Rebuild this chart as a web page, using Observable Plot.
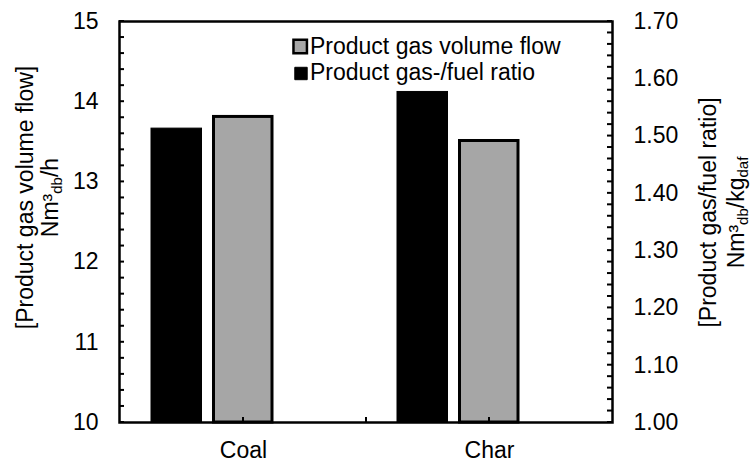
<!DOCTYPE html>
<html><head><meta charset="utf-8">
<script src="https://cdn.jsdelivr.net/npm/d3@7"></script>
<script src="https://cdn.jsdelivr.net/npm/@observablehq/plot@0.6"></script>
<style>body{margin:0;background:#fff}</style>
</head><body><div id="chart"></div>
<script>
// ---- data ----
const categories = ["Coal", "Char"];
const volumeFlow = [13.81, 13.51];        // Nm³db/h (left axis)
const gasFuelRatio = [1.513, 1.577];      // Nm³db/kgdaf (right axis)
const seriesNames = ["Product gas volume flow", "Product gas-/fuel ratio"];
const leftTicks = [10, 11, 12, 13, 14, 15];
const rightTicks = [1.00, 1.10, 1.20, 1.30, 1.40, 1.50, 1.60, 1.70];
const leftTitle = "[Product gas volume flow]";
const rightTitle = "[Product gas/fuel ratio]";

// ---- layout ----
const W = 751, H = 462;
const mL = 119, mR = 139, mT = 21, mB = 40;
const frameW = W - mL - mR, frameH = H - mT - mB;
const FS = 23;

const lMin = leftTicks[0], lMax = leftTicks[leftTicks.length - 1];
const rMin = rightTicks[0], rMax = rightTicks[rightTicks.length - 1];
const toLeft = r => lMin + (r - rMin) / (rMax - rMin) * (lMax - lMin);
const fromLeft = v => rMin + (v - lMin) / (lMax - lMin) * (rMax - rMin);

const volData = categories.map((c, i) => ({cat: c, v: volumeFlow[i]}));
const ratioData = categories.map((c, i) => ({cat: c, r: gasFuelRatio[i]}));
const leftMinor = d3.range(lMin, lMax + 1e-9, 0.2);
const rightMinor = d3.range(rMin, rMax + 1e-9, 0.02).map(toLeft);
const bw = frameW / categories.length;

const chart = Plot.plot({
  width: W, height: H,
  marginLeft: mL, marginRight: mR, marginTop: mT, marginBottom: mB,
  style: {fontFamily: "Arial, 'Liberation Sans', sans-serif", fontSize: FS + "px", background: "white", color: "black"},
  x: {type: "band", domain: categories, padding: 0, axis: null},
  y: {domain: [lMin, lMax], axis: null},
  marks: [
    Plot.barY(ratioData, {x: "cat", y1: lMin, y2: d => toLeft(d.r), fill: "black", stroke: "black", strokeWidth: 1, insetLeft: 31, insetRight: bw - 82}),
    Plot.barY(volData, {x: "cat", y1: lMin, y2: "v", fill: "#a6a6a6", stroke: "black", strokeWidth: 3, insetLeft: 93.5, insetRight: bw - 152.5}),
    Plot.frame({stroke: "black", strokeWidth: 2.5}),
    Plot.axisY(leftTicks, {anchor: "left", tickSize: 0, tickPadding: 21, fontSize: FS, label: null, tickFormat: d => d.toFixed(0)}),
    Plot.axisY(rightTicks.map(toLeft), {anchor: "right", tickSize: 0, tickPadding: 21, fontSize: FS, label: null,
      tickFormat: v => fromLeft(v).toFixed(2)}),
    Plot.axisX({anchor: "bottom", tickSize: 0, tickPadding: 19, fontSize: FS, label: null}),
    // axis titles
    Plot.text([leftTitle], {frameAnchor: "left", textAnchor: "middle", lineAnchor: "middle", rotate: -90, dx: -94, dy: -24.5, fontSize: FS}),
    Plot.text(["Nm³db/h"], {frameAnchor: "left", textAnchor: "middle", lineAnchor: "middle", rotate: -90, dx: -69, dy: -24.5, fontSize: FS, className: "unit-left"}),
    Plot.text([rightTitle], {frameAnchor: "right", textAnchor: "middle", lineAnchor: "middle", rotate: -90, dx: 96, dy: -9.5, fontSize: FS}),
    Plot.text(["Nm³db/kgdaf"], {frameAnchor: "right", textAnchor: "middle", lineAnchor: "middle", rotate: -90, dx: 124, dy: -9.5, fontSize: FS, className: "unit-right"}),
    // legend
    Plot.dot([seriesNames[0]], {frameAnchor: "top-left", dx: 180.7, dy: 25, symbol: "square", r: 7.6, fill: "#a6a6a6", stroke: "black", strokeWidth: 2.5}),
    Plot.text([seriesNames[0]], {frameAnchor: "top-left", dx: 190.5, dy: 25, textAnchor: "start", lineAnchor: "middle", fontSize: FS}),
    Plot.dot([seriesNames[1]], {frameAnchor: "top-left", dx: 181.5, dy: 52, symbol: "square", r: 7.0, fill: "black", stroke: "black", strokeWidth: 1}),
    Plot.text([seriesNames[1]], {frameAnchor: "top-left", dx: 190.5, dy: 51, textAnchor: "start", lineAnchor: "middle", fontSize: FS})
  ]
});

function subscriptify(sel, parts) {
  d3.select(chart).selectAll(sel + " text").each(function() {
    const t = d3.select(this);
    t.text(null);
    let shifted = false;
    for (const [s, sub] of parts) {
      const ts = t.append("tspan").text(s);
      if (sub && !shifted) { ts.attr("dy", "0.3em").attr("font-size", 15); shifted = true; }
      else if (!sub && shifted) { ts.attr("dy", "-0.2em"); shifted = false; }
      else if (sub) ts.attr("font-size", 15);
    }
  });
}
subscriptify(".unit-left", [["Nm³", false], ["db", true], ["/h", false]]);
subscriptify(".unit-right", [["Nm³", false], ["db", true], ["/kg", false], ["daf", true]]);

// inward tick marks, positioned through Plot's own scales
const ys = chart.scale("y"), xs = chart.scale("x");
const tg = d3.select(chart).append("g").attr("aria-label", "inward ticks")
  .attr("stroke", "black").attr("stroke-width", 2);
const xL = mL, xR = W - mR, yB = H - mB, TL = 5;
for (const v of leftMinor) {
  const y = ys.apply(v);
  tg.append("line").attr("x1", xL).attr("x2", xL + TL).attr("y1", y).attr("y2", y);
}
for (const v of rightMinor) {
  const y = ys.apply(v);
  tg.append("line").attr("x1", xR - TL).attr("x2", xR).attr("y1", y).attr("y2", y);
}
for (const c of categories) {
  const x = xs.apply(c) + xs.bandwidth / 2;
  tg.append("line").attr("x1", x).attr("x2", x).attr("y1", yB - TL).attr("y2", yB);
}
for (const c of categories.slice(1)) {
  const x = xs.apply(c);
  tg.append("line").attr("x1", x).attr("x2", x).attr("y1", yB - TL).attr("y2", yB);
}

document.getElementById("chart").appendChild(chart);
</script>
</body></html>
